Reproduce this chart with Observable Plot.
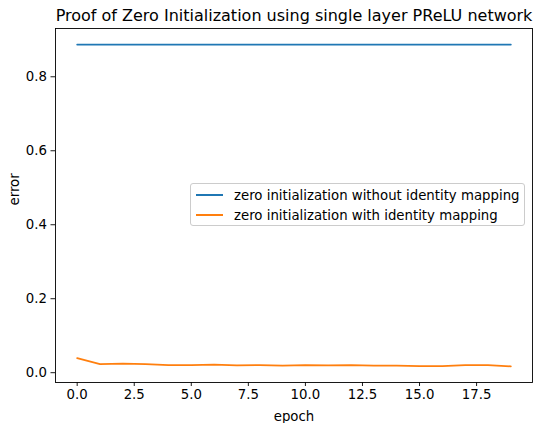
<!DOCTYPE html>
<html><head><meta charset="utf-8">
<script src="https://cdn.jsdelivr.net/npm/d3@7"></script>
<script src="https://cdn.jsdelivr.net/npm/@observablehq/plot@0.6"></script>
<style>
body{margin:0;background:#fff;}
#wrap{position:relative;width:535px;height:423px;font-family:"DejaVu Sans",sans-serif;}
#wrap svg{display:block;}
.legend{position:absolute;left:190px;top:183px;width:335px;height:43px;border:1px solid #cccccc;border-radius:3px;background:rgba(255,255,255,0.8);font-size:13.3px;color:#000;box-sizing:border-box;}
.row{position:absolute;left:5px;height:16px;display:flex;align-items:center;white-space:nowrap;}
.sw{display:inline-block;width:27px;height:1.8px;margin-right:11px;}
</style></head><body><div id="wrap"></div>
<script>
const epochs = [0,1,2,3,4,5,6,7,8,9,10,11,12,13,14,15,16,17,18,19];
const errWithout = [0.887,0.887,0.887,0.887,0.887,0.887,0.887,0.887,0.887,0.887,0.887,0.887,0.887,0.887,0.887,0.887,0.887,0.887,0.887,0.887];
const errWith = [0.0395,0.0233,0.0242,0.0233,0.0206,0.0206,0.0215,0.0197,0.0206,0.0188,0.0206,0.0197,0.0206,0.0188,0.0188,0.0179,0.0179,0.0206,0.0206,0.0170];
const seriesNames = ["zero initialization without identity mapping","zero initialization with identity mapping"];
const seriesColors = ["#1f77b4","#ff7f0e"];
const xTicks = [0,2.5,5,7.5,10,12.5,15,17.5];
const yTicks = [0,0.2,0.4,0.6,0.8];
const titleText = "Proof of Zero Initialization using single layer PReLU network";

const data = [];
epochs.forEach((e,i)=>{
  data.push({epoch:e, error:errWithout[i], s:seriesNames[0]});
  data.push({epoch:e, error:errWith[i], s:seriesNames[1]});
});

const chart = Plot.plot({
  width:535, height:423,
  marginLeft:55, marginRight:3, marginTop:28, marginBottom:41,
  style:{fontFamily:"DejaVu Sans, sans-serif", fontSize:"13.3px", color:"#000", background:"#fff"},
  x:{domain:[-0.95,19.95]},
  y:{domain:[-0.0265,0.9305]},
  color:{domain:seriesNames, range:seriesColors},
  marks:[
    Plot.axisX({ticks:xTicks, tickFormat:d3.format(".1f"), tickSize:4, tickPadding:3, label:null, fontSize:13.3, stroke:"#000", strokeWidth:0.9}),
    Plot.axisY({ticks:yTicks, tickFormat:d3.format(".1f"), tickSize:4.5, tickPadding:4, label:null, fontSize:13.3, stroke:"#000", strokeWidth:0.9}),
    Plot.line(data, {x:"epoch", y:"error", z:"s", stroke:"s", strokeWidth:1.75}),
    Plot.frame({stroke:"#000", strokeWidth:0.9}),
    Plot.text([titleText], {frameAnchor:"top", dy:-13, fontSize:16, lineAnchor:"middle", fill:"#000"}),
    Plot.text(["epoch"], {frameAnchor:"bottom", dy:34, fontSize:13.3, lineAnchor:"middle", fill:"#000"}),
    Plot.text(["error"], {frameAnchor:"left", dx:-41, rotate:-90, fontSize:13.3, lineAnchor:"middle", fill:"#000"})
  ]
});
const wrap = document.getElementById("wrap");
wrap.appendChild(chart);
const leg = document.createElement("div");
leg.className = "legend";
seriesNames.forEach((n,i)=>{
  const r = document.createElement("div");
  r.className = "row";
  r.style.top = (3 + i*20) + "px";
  const sw = document.createElement("span");
  sw.className = "sw";
  sw.style.background = seriesColors[i];
  r.appendChild(sw);
  r.appendChild(document.createTextNode(n));
  leg.appendChild(r);
});
wrap.appendChild(leg);
</script></body></html>
